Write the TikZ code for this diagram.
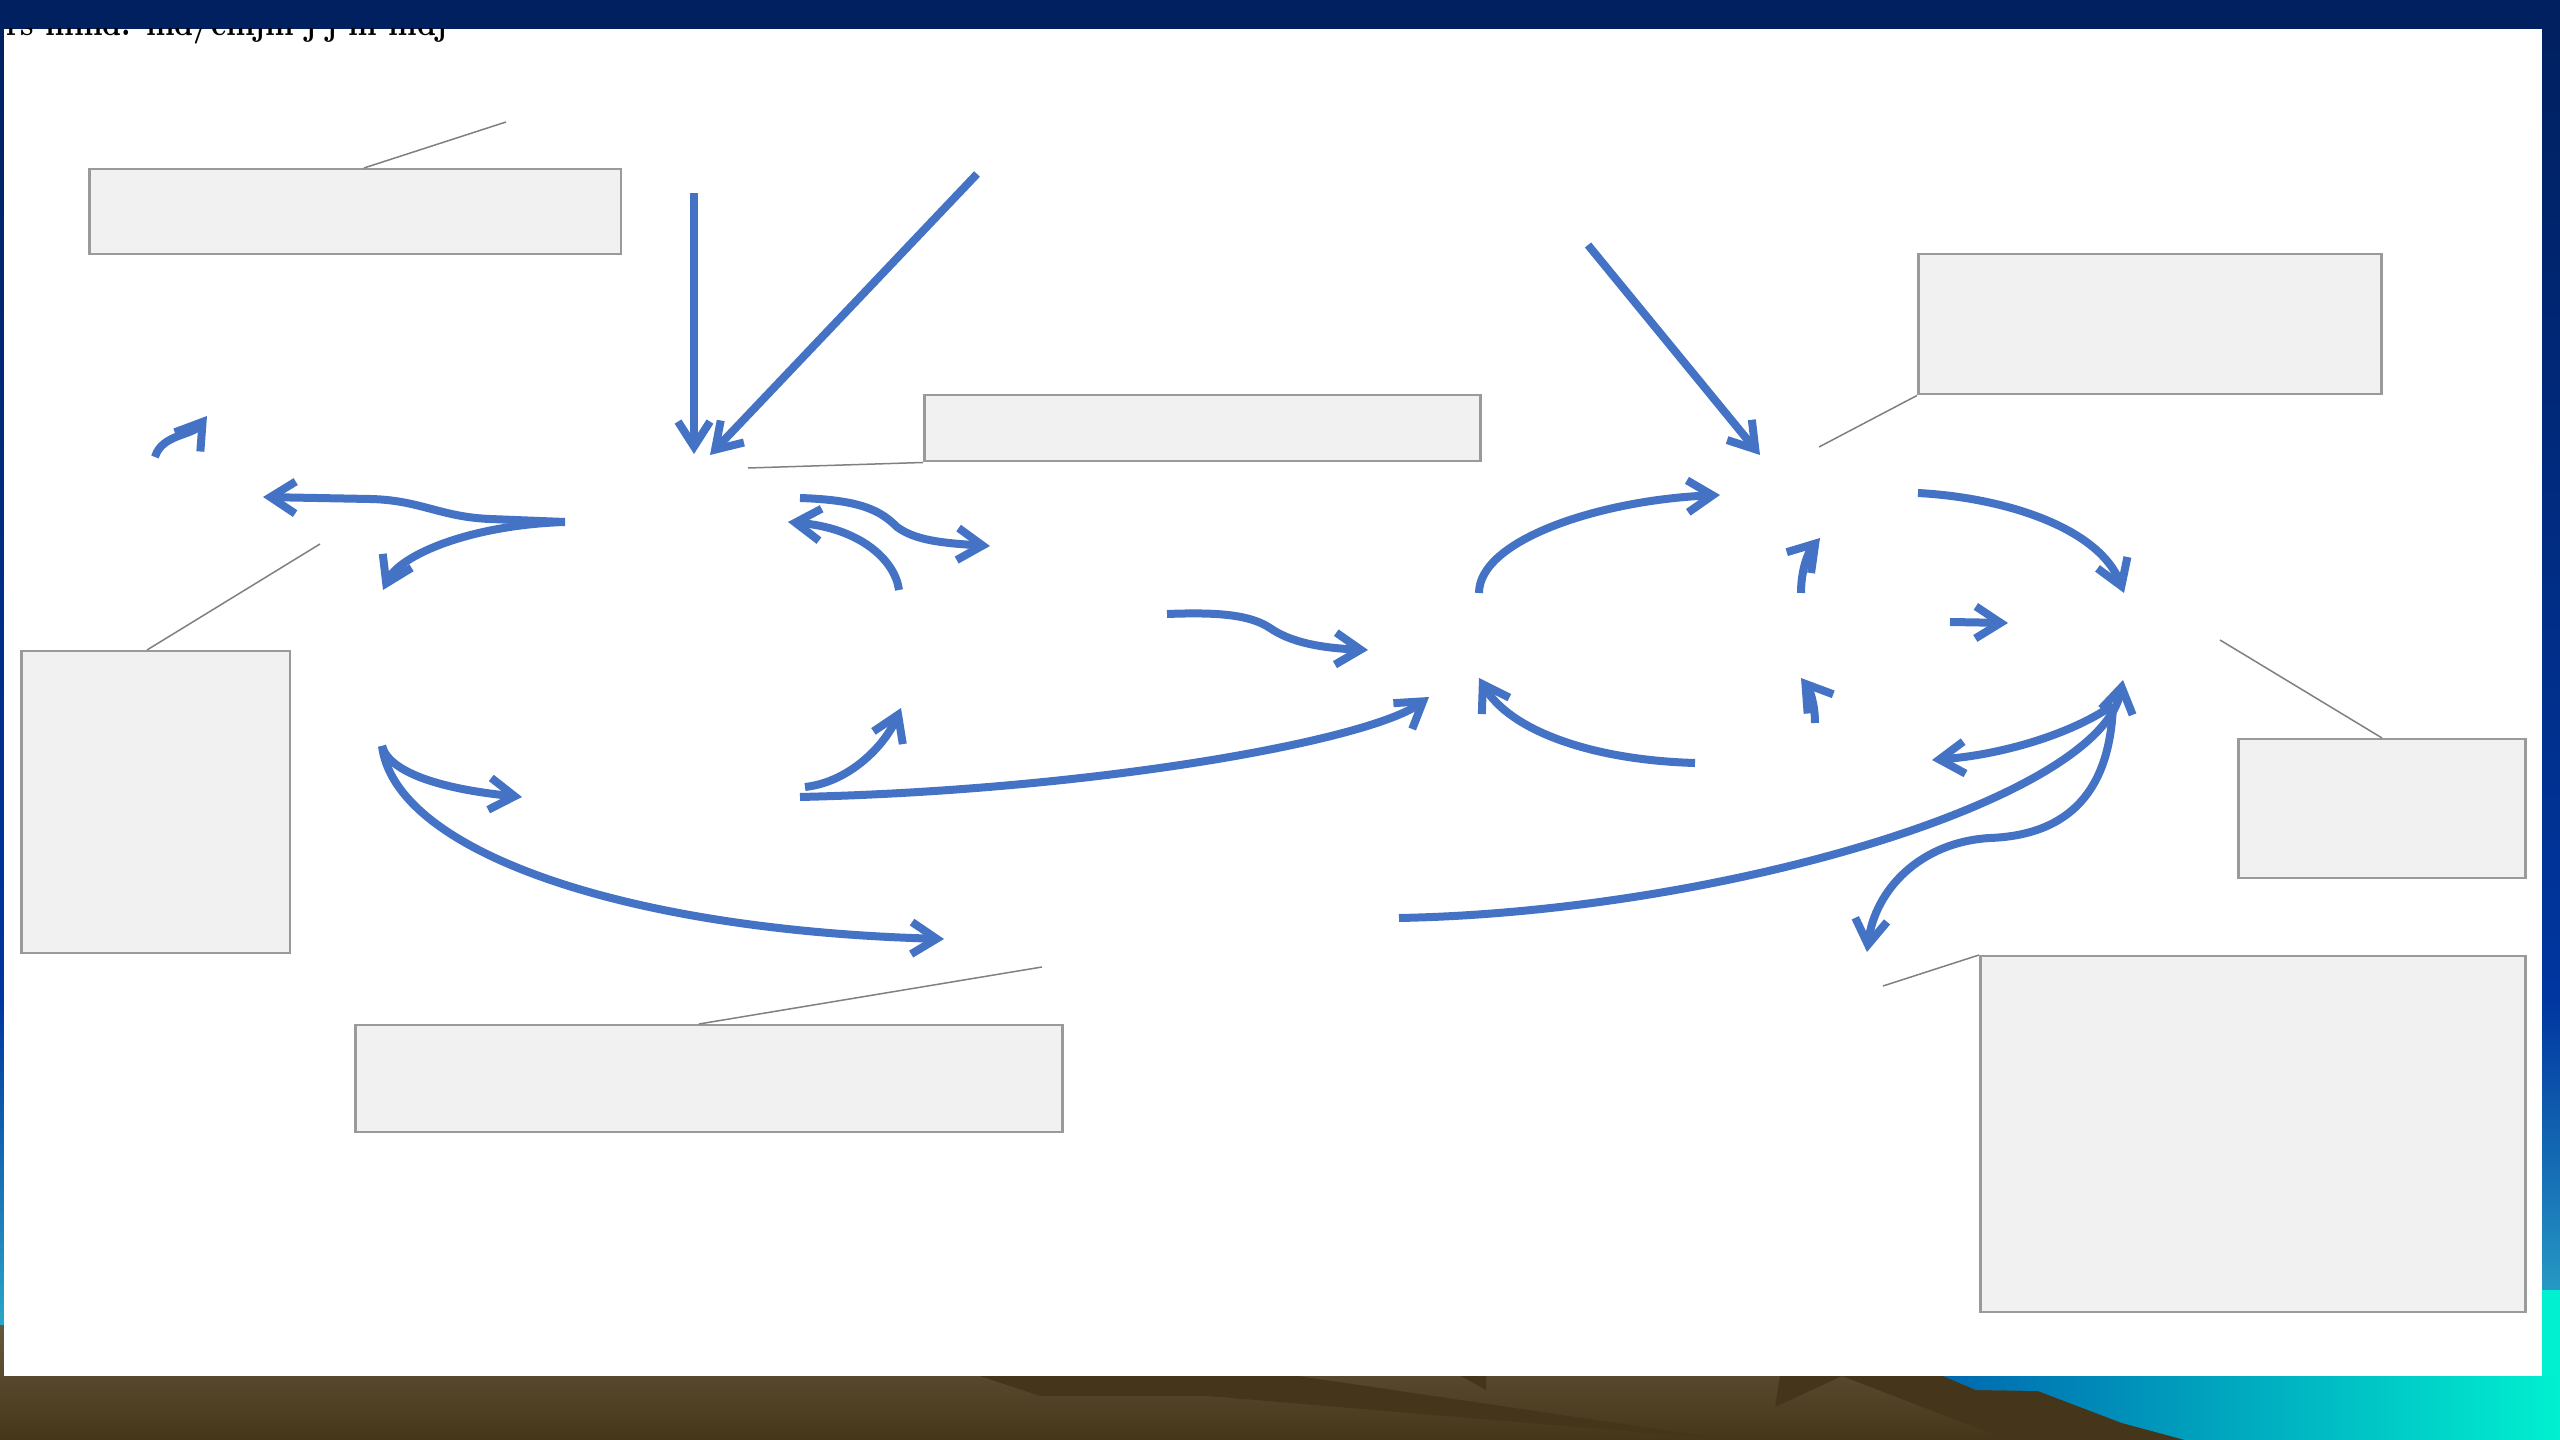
\documentclass[tikz,border=0pt]{standalone}
\usetikzlibrary{arrows.meta}
\definecolor{navy}{HTML}{002060}
\definecolor{royal}{HTML}{0036A0}
\definecolor{midblue}{HTML}{1A78B8}
\definecolor{paleblue}{HTML}{2AA6C8}
\definecolor{aqua}{HTML}{00F0D0}
\definecolor{tealblue}{HTML}{0068B0}
\definecolor{browntop}{HTML}{66583F}
\definecolor{brownbot}{HTML}{463619}
\definecolor{darkbrown}{HTML}{45351A}
\definecolor{flowblue}{HTML}{4472C4}
\definecolor{boxfill}{HTML}{F1F1F1}
\definecolor{boxedge}{HTML}{9A9A9A}
\definecolor{leadgray}{HTML}{808080}

\begin{document}
\begin{tikzpicture}[x=0.1mm,y=-0.1mm,
  flow/.style={draw=flowblue, line width=0.8mm,
    -{Straight Barb[length=2.5mm,width=3.2mm]}},
  note/.style={draw=boxedge, fill=boxfill, line width=0.25mm,
    inner sep=0pt, anchor=north west},
  lead/.style={draw=leadgray, line width=0.15mm}]

\useasboundingbox (0,0) rectangle (2560,1440);
\clip (0,0) rectangle (2560,1440);

% slide background
\fill[navy] (0,0) rectangle (2560,29);
\shade[top color=navy, bottom color=royal] (0,29) rectangle (2560,1000);
\shade[top color=royal, bottom color=midblue] (0,1000) rectangle (2560,1200);
\shade[top color=midblue, bottom color=paleblue] (0,1200) rectangle (2560,1325);
\shade[top color=browntop, bottom color=brownbot] (0,1325) rectangle (2560,1440);
\fill[aqua] (2542,1290) rectangle (2560,1376);

% landscape at the foot of the slide
\fill[darkbrown] (980,1376) -- (1298,1376) -- (1731,1440) -- (1208,1396) -- (1040,1396) -- cycle;
\fill[darkbrown] (1461,1376) -- (1486,1376) -- (1486,1390) -- cycle;
\fill[darkbrown] (1780,1376) -- (1842,1376) -- (1775,1407) -- cycle;
\fill[darkbrown] (1842,1376) -- (1943,1376) -- (1976,1390) -- (2038,1391)
  -- (2122,1423) -- (2185,1440) -- (2008,1440) -- cycle;
\shade[left color=tealblue, right color=aqua] (1943,1376) -- (2560,1376)
  -- (2560,1440) -- (2185,1440) -- (2122,1423) -- (2038,1391) -- (1976,1390) -- cycle;

% white panel
\fill[white] (4,29) rectangle (2542,1376);

% heading, mostly hidden under the top bar
\begin{scope}
  \clip (4,29) rectangle (470,60);
  \node[anchor=base west, inner sep=0pt] (hdr) at (6,36)
    {\resizebox{44mm}{2.6mm}{\bfseries rs mmd. md/cmjm j j m mdj}};
\end{scope}

% empty note boxes
\node[note, minimum width=53.2mm, minimum height=8.5mm] (boxA) at (88,168) {};
\node[note, minimum width=55.6mm, minimum height=6.6mm] (boxB) at (923,394) {};
\node[note, minimum width=46.3mm, minimum height=14mm] (boxC) at (1917,253) {};
\node[note, minimum width=26.9mm, minimum height=30.2mm] (boxD) at (20,650) {};
\node[note, minimum width=28.7mm, minimum height=13.9mm] (boxE) at (2237,738) {};
\node[note, minimum width=70.7mm, minimum height=10.7mm] (boxF) at (354,1024) {};
\node[note, minimum width=54.5mm, minimum height=35.6mm] (boxG) at (1979,955) {};

% leader lines
\coordinate (pA) at (364,168);  \coordinate (qA) at (506,122);
\coordinate (qB) at (748,468);
\coordinate (qC) at (1819,447);
\coordinate (pD) at (147,650);  \coordinate (qD) at (320,544);
\coordinate (pE) at (2382,738); \coordinate (qE) at (2220,640);
\coordinate (pF) at (699,1024); \coordinate (qF) at (1042,967);
\coordinate (qG) at (1883,986);
\draw[lead] (pA) -- (qA);
\draw[lead] (boxB.south west) -- (qB);
\draw[lead] (boxC.south west) -- (qC);
\draw[lead] (pD) -- (qD);
\draw[lead] (pE) -- (qE);
\draw[lead] (pF) -- (qF);
\draw[lead] (boxG.north west) -- (qG);

% flow arrows: end points
\coordinate (c1s) at (155,457);  \coordinate (c1e) at (207,416);
\coordinate (fork) at (565,522);
\coordinate (c2e) at (263,497);  \coordinate (c3e) at (383,590);
\coordinate (v1s) at (694,193);  \coordinate (v1e) at (694,454);
\coordinate (d1s) at (977,174);  \coordinate (d1e) at (710,455);
\coordinate (d2s) at (1588,245); \coordinate (d2e) at (1760,455);
\coordinate (s1s) at (800,498);  \coordinate (s1e) at (990,546);
\coordinate (b1s) at (899,590);  \coordinate (b1e) at (788,522);
\coordinate (u1s) at (805,787);  \coordinate (u1e) at (901,708);
\coordinate (l1s) at (800,797);  \coordinate (l1e) at (1429,697);
\coordinate (lfork) at (382,746);
\coordinate (k1e) at (522,797);  \coordinate (k2e) at (944,939);
\coordinate (w1s) at (1167,614); \coordinate (w1e) at (1368,650);
\coordinate (r1s) at (1479,593); \coordinate (r1e) at (1720,495);
\coordinate (r2s) at (1801,593); \coordinate (r2e) at (1820,538);
\coordinate (r3s) at (1918,493); \coordinate (r3e) at (2124,593);
\coordinate (r4s) at (1950,622); \coordinate (r4e) at (2008,623);
\coordinate (r5s) at (1815,723); \coordinate (r5e) at (1801,678);
\coordinate (r6s) at (1695,763); \coordinate (r6e) at (1479,678);
\coordinate (hub) at (2123,680); \coordinate (hubb) at (2113,705);
\coordinate (h1s) at (1399,918);
\coordinate (h2e) at (1932,760);
\coordinate (h3e) at (1867,952);

% left cluster
\draw[flow] (c1s) .. controls (162,434) and (192,436) .. (c1e);
\draw[flow] (fork) -- (490,519) .. controls (440,517) and (420,500) .. (370,499) -- (c2e);
\draw[flow] (fork) .. controls (470,525) and (400,555) .. (c3e);
\draw[flow] (v1s) -- (v1e);
\draw[flow] (d1s) -- (d1e);
\draw[flow] (s1s) .. controls (860,500) and (880,510) .. (897,527)
  .. controls (915,540) and (940,543) .. (s1e);
\draw[flow] (b1s) .. controls (895,560) and (860,528) .. (b1e);
\draw[flow] (u1s) .. controls (850,782) and (885,745) .. (u1e);
\draw[flow] (l1s) .. controls (1100,790) and (1370,740) .. (l1e);
\draw[flow] (lfork) .. controls (390,775) and (450,790) .. (k1e);
\draw[flow] (lfork) .. controls (395,850) and (620,930) .. (k2e);
\draw[flow] (w1s) .. controls (1220,612) and (1250,615) .. (1270,628)
  .. controls (1290,642) and (1320,648) .. (w1e);

% right cluster
\draw[flow] (d2s) -- (d2e);
\draw[flow] (r1s) .. controls (1479,540) and (1600,500) .. (r1e);
\draw[flow] (r2s) .. controls (1801,570) and (1808,552) .. (r2e);
\draw[flow] (r3s) .. controls (2010,498) and (2100,530) .. (r3e);
\draw[flow] (r4s) -- (r4e);
\draw[flow] (r5s) .. controls (1815,705) and (1810,690) .. (r5e);
\draw[flow] (r6s) .. controls (1590,760) and (1510,730) .. (r6e);
\draw[flow] (h1s) .. controls (1720,912) and (2100,800) .. (hub);
\draw[flow] (hubb) .. controls (2070,735) and (2000,755) .. (h2e);
\draw[flow] (hubb) .. controls (2110,790) and (2070,835) .. (1990,838)
  .. controls (1920,842) and (1875,890) .. (h3e);
\end{tikzpicture}
\end{document}
